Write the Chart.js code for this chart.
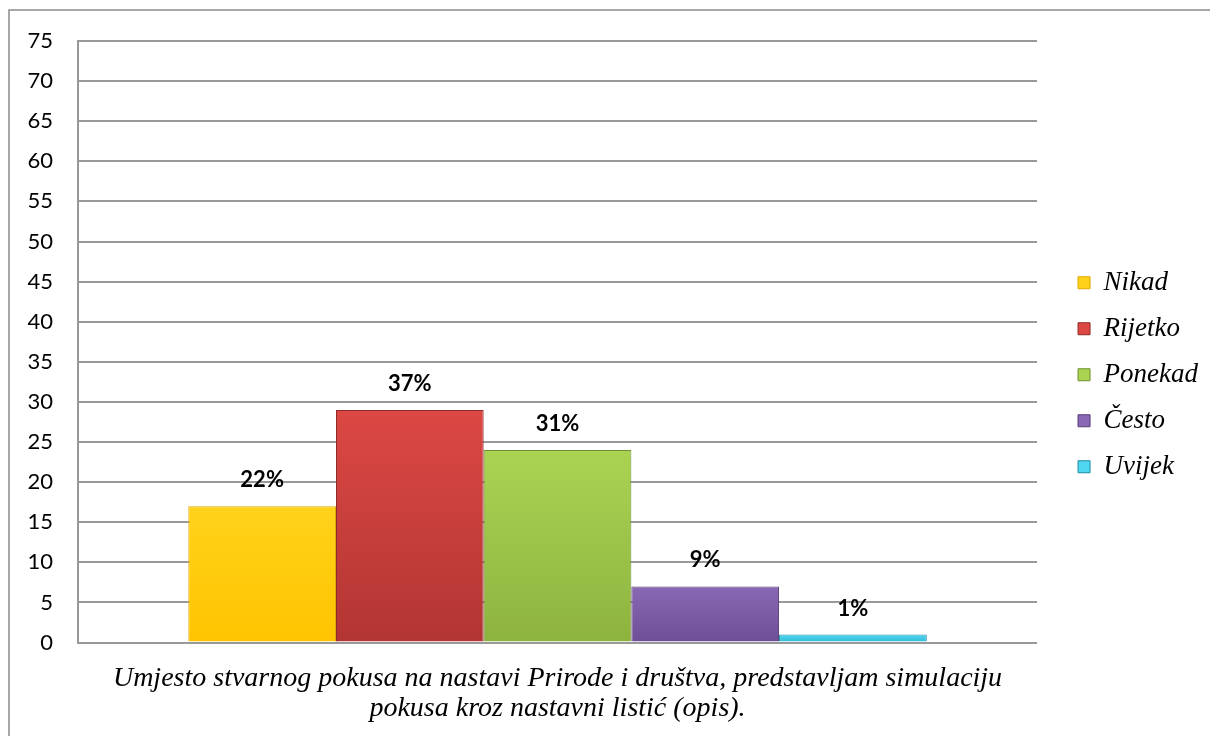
<!DOCTYPE html>
<html>
<head>
<meta charset="utf-8">
<script src="https://cdn.jsdelivr.net/npm/chart.js@4/dist/chart.umd.min.js"></script>
<style>
  html, body { margin: 0; padding: 0; background: #fff; overflow: hidden; }
  #wrap { position: relative; width: 1210px; height: 736px; }
</style>
</head>
<body>
<div id="wrap"><canvas id="odgovori"></canvas></div>
<script>
const categories = ['Nikad', 'Rijetko', 'Ponekad', 'Često', 'Uvijek'];
const values = [17, 29, 24, 7, 1];
const percentLabels = ['22%', '37%', '31%', '9%', '1%'];
const yMin = 0, yMax = 75, yStep = 5;
const axisTitle = [
    'Umjesto stvarnog pokusa na nastavi Prirode i društva, predstavljam simulaciju',
    'pokusa kroz nastavni listić (opis).'
];

const serif = '"Liberation Serif", "Times New Roman", "DejaVu Serif", serif';

// light top / dark bottom, like the bevelled office bars
const colors = [
    ['#ffd21a', '#ffc400', '#e0a800'],
    ['#dc4844', '#b23533', '#8f2a28'],
    ['#aad352', '#8db33f', '#6f8f30'],
    ['#8a68b4', '#6e4f96', '#553d75'],
    ['#4fd7f2', '#2eb8d6', '#1d8aa3']
];

function barFill(i) {
    return function (ctx) {
        const chart = ctx.chart;
        const area = chart.chartArea;
        if (ctx.type !== 'data' || !area) return colors[i][1];
        const top = chart.scales.y.getPixelForValue(ctx.raw);
        const g = chart.ctx.createLinearGradient(0, top, 0, area.bottom);
        g.addColorStop(0, colors[i][0]);
        g.addColorStop(1, colors[i][1]);
        return g;
    };
}

const datasets = categories.map((name, i) => ({
    label: name,
    data: [values[i]],
    backgroundColor: barFill(i),
    borderColor: colors[i][2],
    borderWidth: 1
}));

const pageFrame = {
    id: 'pageFrame',
    beforeDraw(chart) {
        const c = chart.ctx;
        c.save();
        c.strokeStyle = '#8c8c8c';
        c.lineWidth = 1.5;
        c.strokeRect(9, 10, 1400, 900);
        c.restore();
    }
};

const barLabels = {
    id: 'barLabels',
    afterDatasetsDraw(chart) {
        const c = chart.ctx;
        c.save();
        c.font = 'bold 22px Lato';
        c.fillStyle = '#000';
        c.textAlign = 'center';
        c.textBaseline = 'middle';
        chart.data.datasets.forEach((ds, i) => {
            const bar = chart.getDatasetMeta(i).data[0];
            c.fillText(percentLabels[i], bar.x, bar.y - 26);
        });
        c.restore();
    }
};

new Chart(document.getElementById('odgovori'), {
    type: 'bar',
    data: { labels: [''], datasets: datasets },
    plugins: [pageFrame, barLabels],
    options: {
        responsive: true,
        maintainAspectRatio: false,
        animation: false,
        layout: { padding: { left: 10, right: 2, top: 41, bottom: 12 } },
        datasets: { bar: { categoryPercentage: 0.77, barPercentage: 1 } },
        scales: {
            x: {
                grid: { display: false, drawTicks: false },
                border: { display: false },
                ticks: { display: false },
                title: {
                    display: true,
                    text: axisTitle,
                    color: '#000',
                    font: { family: serif, size: 28, style: 'italic', lineHeight: 1.08 },
                    padding: { top: 21, bottom: 0 }
                }
            },
            y: {
                min: yMin,
                max: yMax,
                afterFit(scale) { scale.width = 68; },
                grid: { color: '#999', lineWidth: 2, drawTicks: false },
                border: { display: true, color: '#999', width: 2 },
                ticks: {
                    stepSize: yStep,
                    padding: 25,
                    color: '#000',
                    font: { family: 'Lato', size: 22 }
                }
            },
            gap: {
                type: 'linear',
                position: 'right',
                afterFit(scale) { scale.width = 22; },
                grid: { display: false, drawTicks: false },
                border: { display: false },
                ticks: { display: false }
            }
        },
        plugins: {
            tooltip: { enabled: false },
            legend: {
                position: 'right',
                fullSize: false,
                title: { display: true, text: '', font: { size: 6, lineHeight: 1 }, padding: { top: 60, bottom: 0 } },
                labels: {
                    boxWidth: 12,
                    boxHeight: 12,
                    padding: 19,
                    color: '#000',
                    font: { family: serif, size: 27, style: 'italic' }
                }
            }
        }
    }
});
</script>
</body>
</html>
